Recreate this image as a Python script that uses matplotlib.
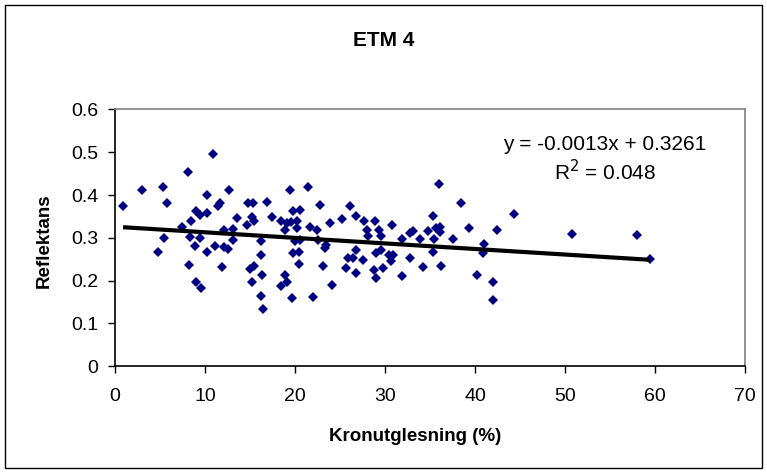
import matplotlib
matplotlib.use("Agg")
import matplotlib.pyplot as plt
from matplotlib.patches import Rectangle
import numpy as np

plt.rcParams['font.family'] = ['Liberation Sans', 'DejaVu Sans']

# crown thinning (%) vs reflectance
kronutglesning = [
    0.9, 3.0, 5.3, 5.8, 5.4, 4.8, 8.1, 8.2, 9.0, 9.6,
    10.2, 10.9, 7.4, 8.5, 9.0, 9.4, 10.2, 8.3, 9.4, 8.9,
    10.2, 11.7, 11.5, 12.7, 13.6, 12.1, 13.1, 13.1, 11.1, 12.1,
    12.6, 11.9, 14.8, 15.3, 15.2, 15.4, 14.7, 15.0, 15.4, 15.2,
    16.2, 16.2, 16.3, 16.2, 16.4, 16.9, 17.5, 19.4, 21.4, 18.5,
    19.1, 19.6, 20.2, 20.6, 19.8, 18.9, 20.2, 20.6, 20.0, 20.4,
    19.8, 20.4, 18.9, 19.1, 18.5, 19.7, 22.8, 26.1, 26.8, 23.9,
    25.2, 27.7, 28.9, 30.8, 28.0, 29.3, 21.7, 22.4, 28.1, 29.6,
    31.9, 22.6, 23.3, 23.5, 26.8, 25.9, 26.5, 27.6, 29.0, 30.4,
    30.9, 30.7, 23.1, 25.7, 28.8, 29.8, 26.8, 29.0, 31.9, 24.1,
    22.0, 32.8, 32.8, 36.0, 38.4, 44.3, 35.3, 33.1, 34.8, 35.7,
    36.1, 36.1, 39.3, 42.5, 33.9, 35.4, 37.6, 41.0, 40.9, 35.3,
    34.2, 36.2, 40.2, 42.0, 42.0, 50.8, 58.0, 59.4, 29.6,
]
reflektans = [
    0.374, 0.413, 0.420, 0.382, 0.300, 0.268, 0.454, 0.237, 0.196, 0.184,
    0.401, 0.497, 0.325, 0.339, 0.362, 0.354, 0.358, 0.303, 0.300, 0.282,
    0.266, 0.382, 0.374, 0.411, 0.347, 0.319, 0.321, 0.296, 0.280, 0.279,
    0.275, 0.231, 0.382, 0.382, 0.349, 0.339, 0.329, 0.227, 0.235, 0.198,
    0.292, 0.261, 0.214, 0.165, 0.133, 0.383, 0.348, 0.411, 0.418, 0.339,
    0.335, 0.336, 0.339, 0.366, 0.362, 0.319, 0.323, 0.296, 0.292, 0.268,
    0.265, 0.240, 0.214, 0.198, 0.188, 0.159, 0.378, 0.375, 0.350, 0.335,
    0.343, 0.339, 0.339, 0.331, 0.319, 0.319, 0.326, 0.319, 0.304, 0.304,
    0.297, 0.296, 0.276, 0.284, 0.272, 0.253, 0.253, 0.249, 0.265, 0.261,
    0.261, 0.245, 0.235, 0.230, 0.226, 0.230, 0.218, 0.206, 0.210, 0.189,
    0.162, 0.311, 0.253, 0.426, 0.382, 0.355, 0.350, 0.315, 0.315, 0.323,
    0.326, 0.313, 0.323, 0.319, 0.297, 0.297, 0.297, 0.286, 0.265, 0.268,
    0.233, 0.235, 0.214, 0.196, 0.155, 0.310, 0.306, 0.251, 0.272,
]
yticks = [0, 0.1, 0.2, 0.3, 0.4, 0.5, 0.6]
ytick_labels = ['0', '0.1', '0.2', '0.3', '0.4', '0.5', '0.6']

# trendline as printed on the chart
slope = -0.0013
intercept = 0.3261
r2 = 0.048


def main():
    fig = plt.figure(figsize=(7.67, 4.73), dpi=100)
    ax = fig.add_axes([0.1499, 0.2256, 0.8214, 0.5429])

    ax.plot(kronutglesning, reflektans, linestyle='none', marker='D',
            markersize=4.7, color='#000080', markeredgewidth=0)

    x = np.array([min(kronutglesning), max(kronutglesning)])
    ax.plot(x, slope * x + intercept, color='black', linewidth=3,
            solid_capstyle='butt')

    ax.set_xlim(0, 70)
    ax.set_ylim(0, 0.6)
    ax.set_xticks(range(0, 71, 10))
    ax.set_yticks(yticks)
    ax.set_yticklabels(ytick_labels)
    ax.tick_params(direction='out', length=4.8, width=1, labelsize=14,
                   colors='black')
    ax.tick_params(axis='x', pad=10.5)
    ax.tick_params(axis='y', pad=7)
    for side in ['top', 'right']:
        ax.spines[side].set_color('#808080')
    for side in ['left', 'bottom']:
        ax.spines[side].set_color('black')
    for s in ax.spines.values():
        s.set_linewidth(1.2)

    ax.set_xlabel('Kronutglesning (%)', fontsize=13.5, fontweight='bold',
                  va='center')
    ax.xaxis.set_label_coords(0.476, -0.275)
    ax.set_ylabel('Reflektans', fontsize=13.5, fontweight='bold',
                  va='center')
    ax.yaxis.set_label_coords(-0.1127, 0.49)

    fig.text(0.5, 1 - 40 / 473, 'ETM 4', ha='center', va='center',
             fontsize=15, fontweight='bold')
    fig.text(605 / 767, 1 - 145 / 473, f'y = {slope}x + {intercept}',
             ha='center', va='center', fontsize=15)
    fig.text(605 / 767, 1 - 172 / 473, f'R$^2$ = {r2}',
             ha='center', va='center', fontsize=15)

    fig.patches.append(Rectangle((5 / 767, 5 / 473), 757 / 767, 463 / 473,
                                 transform=fig.transFigure, fill=False,
                                 edgecolor='black', linewidth=1))

    fig.savefig('out.png', dpi=100)


if __name__ == "__main__":
    main()
